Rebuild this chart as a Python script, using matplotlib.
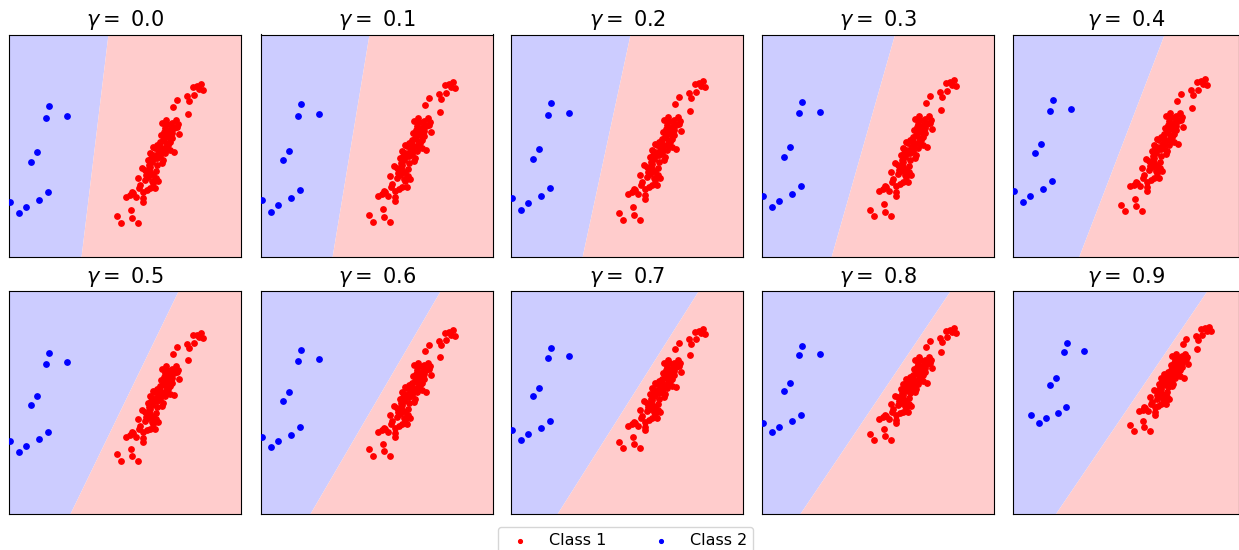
import numpy as np
import matplotlib
matplotlib.use('Agg')
import matplotlib.pyplot as plt

gammas = [0.0, 0.1, 0.2, 0.3, 0.4, 0.5, 0.6, 0.7, 0.8, 0.9]

# class 1 (red) points
red_x = [192, 188, 184, 194, 190, 185, 178, 180, 168, 164, 179, 157, 167, 163, 158,
         153, 156, 168, 161, 170, 163, 158, 156, 154, 163, 157, 151, 148, 144, 153,
         159, 165, 156, 149, 141, 146, 143, 153, 151, 161, 146, 144, 154, 148, 133,
         136, 141, 139, 144, 129, 149, 143, 131, 141, 138, 123, 146, 144, 134, 124,
         121, 117, 127, 134, 134, 122, 108, 123, 112, 129, 151, 148, 140, 137, 147,
         159, 161, 155, 169, 165, 150, 142, 139, 136, 147, 130, 141, 152, 162, 157]
red_y = [173, 171, 170, 167, 168, 162, 161, 156, 157, 150, 143, 137, 137, 134, 133,
         134, 129, 130, 126, 123, 124, 124, 120, 117, 119, 114, 115, 112, 110, 109,
         112, 105, 104, 104, 104, 99, 95, 94, 106, 107, 109, 102, 97, 99, 89,
         87, 85, 80, 82, 79, 76, 76, 72, 69, 67, 65, 69, 74, 65, 64,
         62, 60, 60, 59, 55, 47, 41, 39, 34, 34, 101, 92, 92, 82, 86,
         120, 115, 125, 133, 129, 112, 99, 97, 77, 79, 69, 90, 122, 129, 109]

# class 2 (blue) points
blue_x = [39.7, 36.7, 58.3, 28.0, 22.0, 1.0, 10.0, 17.3, 30.3, 39.0]
blue_y = [151.0, 139.3, 141.3, 104.7, 95.0, 55.3, 43.7, 50.3, 57.3, 65.3]

# decision boundary x = slope * y + intercept, per gamma
bound_slope = [0.121, 0.167, 0.215, 0.279, 0.365, 0.448, 0.528, 0.543, 0.540, 0.544]
bound_icpt = [72.0, 71.2, 71.8, 71.1, 70.8, 71.3, 64.8, 69.0, 69.3, 69.6]

# visible axis ranges per panel
x_lims = [(0, 232), (0, 232), (0, 232), (0, 232), (0, 226),
          (0, 232), (0, 232), (0, 232), (0, 232), (-17.9, 224.4)]
y_lims = [(0, 222.5), (-1, 220), (-3.5, 219.7), (-7.4, 220), (-14.2, 219.9),
          (-23, 218.2), (-29.9, 216.3), (-42, 217.5), (-58, 219.7), (-77, 221)]

W, H = 1239, 550
fig = plt.figure(figsize=(W / 100, H / 100), dpi=100)

col_left = [9, 261, 511, 762, 1013]
col_width = [232, 232, 232, 232, 226]
row_top = [34.5, 291]
ax_h = 222.5

for i, g in enumerate(gammas):
    r, c = divmod(i, 5)
    ax = fig.add_axes([col_left[c] / W, 1 - (row_top[r] + ax_h) / H,
                       col_width[c] / W, ax_h / H])
    xl, yl = x_lims[i], y_lims[i]
    yy = np.array(yl)
    xb = bound_slope[i] * yy + bound_icpt[i]
    ax.fill_betweenx(yy, xl[0], xb, color='#ccccff', lw=0)
    ax.fill_betweenx(yy, xb, xl[1], color='#ffcccc', lw=0)
    s1 = ax.scatter(red_x, red_y, s=15, c='red', label='Class 1', zorder=3)
    s2 = ax.scatter(blue_x, blue_y, s=15, c='blue', label='Class 2', zorder=3)
    ax.set_xlim(xl)
    ax.set_ylim(yl)
    ax.set_xticks([])
    ax.set_yticks([])
    ax.set_title(r'$\gamma = $ ' + str(g), fontsize=15)

fig.legend([s1, s2], ['Class 1', 'Class 2'], loc='upper center',
           bbox_to_anchor=(0.505, (H - 527) / H), ncol=2, fontsize=11.5,
           markerscale=0.7, borderaxespad=0, columnspacing=2.4)

fig.savefig('out.png', dpi=100)
